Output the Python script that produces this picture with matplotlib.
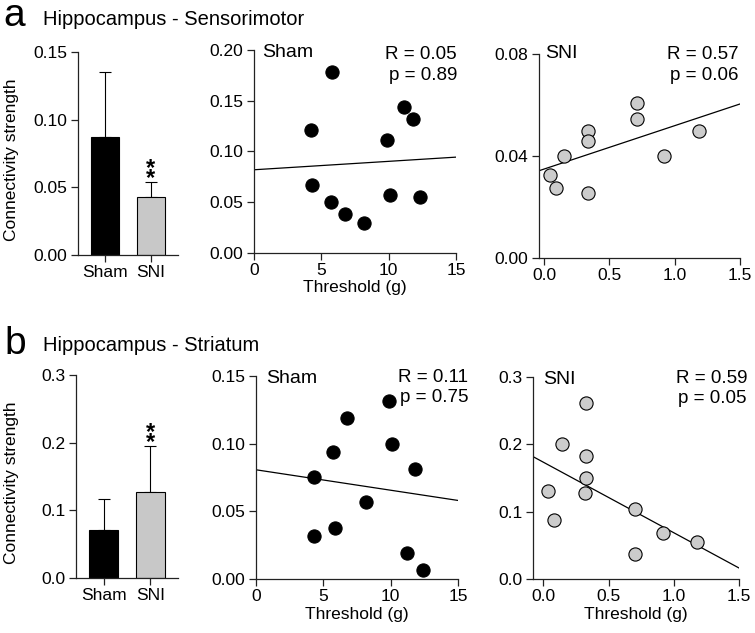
import numpy as np
import matplotlib
matplotlib.use("Agg")
import matplotlib.pyplot as plt

plt.rcParams['font.family'] = ['Liberation Sans', 'DejaVu Sans']

# ---- data ----
groups = ["Sham", "SNI"]

# a: Hippocampus - Sensorimotor
a_bar_mean = [0.087, 0.043]
a_bar_err = [0.048, 0.011]
a_sham_x = [5.81, 4.22, 11.17, 11.8, 9.88, 4.27, 5.69, 6.73, 8.17, 10.1, 12.34]
a_sham_y = [0.178, 0.121, 0.144, 0.132, 0.111, 0.067, 0.050, 0.038, 0.030, 0.057, 0.055]
a_sham_fit = (0.00083, 0.082)  # slope, intercept
a_sni_x = [0.043, 0.089, 0.151, 0.332, 0.332, 0.332, 0.71, 0.71, 0.917, 1.186]
a_sni_y = [0.0325, 0.0275, 0.040, 0.050, 0.046, 0.0255, 0.0606, 0.0545, 0.040, 0.050]
a_sni_fit = (0.0170, 0.0349)
a_stats = [("R = 0.05", "p = 0.89"), ("R = 0.57", "p = 0.06")]

# b: Hippocampus - Striatum
b_bar_mean = [0.0713, 0.127]
b_bar_err = [0.046, 0.068]
b_sham_x = [9.89, 6.74, 10.12, 5.70, 11.83, 4.29, 8.18, 5.85, 4.34, 11.21, 12.37]
b_sham_y = [0.1316, 0.1188, 0.100, 0.0937, 0.0814, 0.0752, 0.0566, 0.0376, 0.0315, 0.0192, 0.0069]
b_sham_fit = (-0.00151, 0.0807)
b_sni_x = [0.328, 0.143, 0.325, 0.325, 0.322, 0.036, 0.084, 0.704, 0.914, 1.177, 0.704]
b_sni_y = [0.262, 0.200, 0.183, 0.150, 0.127, 0.131, 0.087, 0.104, 0.068, 0.0554, 0.037]
b_sni_fit = (-0.1047, 0.1734)
b_stats = [("R = 0.11", "p = 0.75"), ("R = 0.59", "p = 0.05")]

W, H = 755, 633
fig = plt.figure(figsize=(W / 100, H / 100), dpi=100)

TICK_FS = 12.5
LABEL_FS = 12.5


def px_axes(l, t, r, b):
    return fig.add_axes([l / W, 1 - b / H, (r - l) / W, (b - t) / H])


def ftext(x, y, s, **kw):
    fig.text(x / W, 1 - y / H, s, va='baseline', **kw)


def style(ax):
    for s in ['top', 'right']:
        ax.spines[s].set_visible(False)
    for s in ['left', 'bottom']:
        ax.spines[s].set_linewidth(0.9)
        ax.spines[s].set_color('#222222')
    ax.tick_params(direction='out', length=5, width=0.9, color='#222222',
                   labelsize=TICK_FS)
    ax.tick_params(axis='x', pad=2)
    ax.tick_params(axis='y', pad=2.5)


def bar_panel(ax, left_px, mean, err, ylim, yticks, yfmt):
    style(ax)
    x = np.arange(len(groups))
    ax.bar(x, mean, width=0.61, color=['black', '#c8c8c8'], edgecolor='black',
           linewidth=0.8, zorder=2)
    ax.errorbar(x, mean, yerr=[np.zeros(len(err)), err], fmt='none',
                ecolor='black', elinewidth=0.8, capsize=4, capthick=0.8, zorder=1)
    ax.set_xlim(-0.59, 1.59)
    ax.set_ylim(*ylim)
    ax.set_xticks(x)
    ax.set_xticklabels(groups)
    ax.set_yticks(yticks)
    ax.set_yticklabels([yfmt.format(v) for v in yticks])
    ax.set_ylabel("Connectivity strength", fontsize=LABEL_FS)
    w_px = ax.get_position().width * W
    ax.yaxis.set_label_coords((19 - left_px) / w_px, 0.47)
    # significance stars, stacked
    ax.annotate("*\n*", (1, mean[1] + err[1]), xytext=(0, -6),
                textcoords='offset points', ha='center', va='bottom',
                fontsize=17, fontweight='bold', linespacing=0.3)


def scatter_panel(ax, xs, ys, fit, face, xlim, xticks, xfmt, ylim, yticks, yfmt,
                  xlabel):
    style(ax)
    xx = np.array(xlim)
    ax.plot(xx, fit[0] * xx + fit[1], color='black', lw=0.9, zorder=1)
    ax.plot(xs, ys, 'o', ms=9.5, mfc=face, mec='black', mew=0.8, zorder=2,
            clip_on=False)
    ax.set_xlim(*xlim)
    ax.set_ylim(*ylim)
    ax.set_xticks(xticks)
    ax.set_xticklabels([xfmt.format(v) for v in xticks])
    ax.set_yticks(yticks)
    ax.set_yticklabels([yfmt.format(v) for v in yticks])
    if xlabel:
        ax.set_xlabel("Threshold (g)", fontsize=LABEL_FS, labelpad=2)


# ---- row a ----
ax = px_axes(78, 52, 178, 255)
bar_panel(ax, 78, a_bar_mean, a_bar_err, (0, 0.15), [0, 0.05, 0.10, 0.15], "{:.2f}")

ax = px_axes(254, 50, 456, 253)
scatter_panel(ax, a_sham_x, a_sham_y, a_sham_fit, 'black', (0, 15), [0, 5, 10, 15],
              "{:g}", (0, 0.20), [0, 0.05, 0.10, 0.15, 0.20], "{:.2f}", True)

ax = px_axes(539, 54, 740, 258)
scatter_panel(ax, a_sni_x, a_sni_y, a_sni_fit, '#cccccc', (-0.04, 1.5),
              [0, 0.5, 1.0, 1.5], "{:.1f}", (0, 0.08), [0, 0.04, 0.08], "{:.2f}",
              False)

# ---- row b ----
ax = px_axes(76, 375, 178, 578)
bar_panel(ax, 76, b_bar_mean, b_bar_err, (0, 0.3), [0, 0.1, 0.2, 0.3], "{:.1f}")

ax = px_axes(256, 376, 458, 579)
scatter_panel(ax, b_sham_x, b_sham_y, b_sham_fit, 'black', (0, 15), [0, 5, 10, 15],
              "{:g}", (0, 0.15), [0, 0.05, 0.10, 0.15], "{:.2f}", True)

ax = px_axes(533, 377, 739, 579)
scatter_panel(ax, b_sni_x, b_sni_y, b_sni_fit, '#cccccc', (-0.08, 1.5),
              [0, 0.5, 1.0, 1.5], "{:.1f}", (0, 0.3), [0, 0.1, 0.2, 0.3], "{:.1f}",
              True)

# ---- labels ----
ftext(3, 26, "a", fontsize=28)
ftext(43, 25, "Hippocampus - Sensorimotor", fontsize=14.5)
ftext(4, 354, "b", fontsize=28)
ftext(43, 351, "Hippocampus - Striatum", fontsize=14.5)

STAT_FS = 13.5
ftext(262, 57, "Sham", fontsize=14)
ftext(457, 59, a_stats[0][0], fontsize=STAT_FS, ha='right')
ftext(457, 80, a_stats[0][1], fontsize=STAT_FS, ha='right')
ftext(545, 58, "SNI", fontsize=14)
ftext(739, 59, a_stats[1][0], fontsize=STAT_FS, ha='right')
ftext(739, 80, a_stats[1][1], fontsize=STAT_FS, ha='right')

ftext(266, 383, "Sham", fontsize=14)
ftext(468, 382, b_stats[0][0], fontsize=STAT_FS, ha='right')
ftext(468, 402, b_stats[0][1], fontsize=STAT_FS, ha='right')
ftext(543, 384, "SNI", fontsize=14)
ftext(747, 383, b_stats[1][0], fontsize=STAT_FS, ha='right')
ftext(747, 403, b_stats[1][1], fontsize=STAT_FS, ha='right')

fig.savefig("out.png", dpi=100)
